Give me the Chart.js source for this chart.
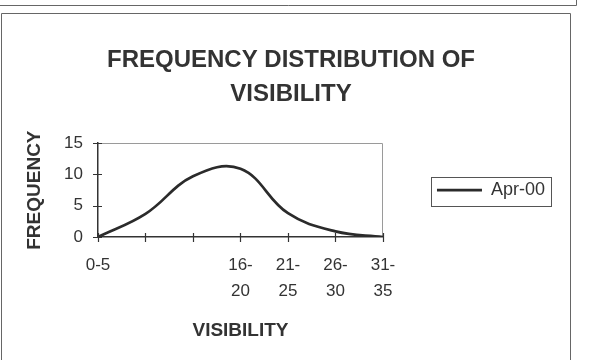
<!DOCTYPE html>
<html>
<head>
<meta charset="utf-8">
<script src="https://cdn.jsdelivr.net/npm/chart.js@4/dist/chart.umd.min.js"></script>
<style>
  html, body { margin: 0; padding: 0; background: #fff; }
  #wrap { width: 591px; height: 360px; position: relative; }
</style>
</head>
<body>
<div id="wrap"><canvas id="chart"></canvas></div>
<script>
// Visibility classes (km) and the number of observations in each
const categories = ['0-5', '6-10', '11-15', '16-20', '21-25', '26-30', '31-35'];
const xTickLabels = [['0-5'], [''], [''], ['16-', '20'], ['21-', '25'], ['26-', '30'], ['31-', '35']];
const seriesLabel = 'Apr-00';
const frequency = [0, 3.7, 9.7, 10.9, 3.8, 0.9, 0];
const yTicks = [0, 5, 10, 15];
const titleLines = ['FREQUENCY DISTRIBUTION OF', 'VISIBILITY'];
const xTitle = 'VISIBILITY';
const yTitle = 'FREQUENCY';

const FONT = "'Liberation Sans', Arial, Helvetica, sans-serif";
const INK = '#333';

// Page frames, plot outline, cross tick marks and the legend box
const framePlugin = {
  id: 'frames',
  beforeDraw(chart) {
    const { ctx, chartArea: a } = chart;
    ctx.save();
    ctx.fillStyle = '#fff';
    ctx.fillRect(0, 0, chart.width, chart.height);
    ctx.strokeStyle = '#666';
    ctx.lineWidth = 1;
    ctx.beginPath();
    ctx.moveTo(0, 5.5); ctx.lineTo(576.5, 5.5); ctx.lineTo(576.5, 0);
    ctx.moveTo(1.5, 362); ctx.lineTo(1.5, 13.5); ctx.lineTo(570.5, 13.5); ctx.lineTo(570.5, 362);
    ctx.stroke();
    ctx.strokeStyle = '#9a9a9a';
    ctx.beginPath();
    ctx.moveTo(a.left, Math.round(a.top) + 0.5);
    ctx.lineTo(Math.round(a.right) - 0.5, Math.round(a.top) + 0.5);
    ctx.lineTo(Math.round(a.right) - 0.5, a.bottom);
    ctx.stroke();
    ctx.restore();
  },
  afterDraw(chart) {
    const { ctx } = chart;
    const xs = chart.scales.x, ys = chart.scales.y;
    ctx.save();
    ctx.strokeStyle = INK;
    ctx.lineWidth = 1.2;
    ctx.beginPath();
    xs.ticks.forEach((t, i) => {
      const px = Math.round(xs.getPixelForTick(i)) + 0.5;
      ctx.moveTo(px, ys.bottom - 4); ctx.lineTo(px, ys.bottom + 5);
    });
    ys.ticks.forEach((t, i) => {
      const py = Math.round(ys.getPixelForTick(i)) + 0.5;
      ctx.moveTo(xs.left - 5, py); ctx.lineTo(xs.left + 4, py);
    });
    ctx.stroke();
    const lg = chart.legend;
    if (lg && lg.legendHitBoxes && lg.legendHitBoxes.length) {
      const h = lg.legendHitBoxes[0];
      ctx.strokeStyle = '#555';
      ctx.lineWidth = 1;
      ctx.strokeRect(Math.round(h.left - 6) + 0.5, Math.round(h.top - 4) + 0.5,
                     Math.round(h.width + 12), Math.round(h.height + 11));
    }
    ctx.restore();
  }
};

new Chart(document.getElementById('chart'), {
  type: 'line',
  data: {
    labels: categories,
    datasets: [{
      label: seriesLabel,
      data: frequency,
      borderColor: '#2b2b2b',
      backgroundColor: '#2b2b2b',
      borderWidth: 2.7,
      tension: 0.4,
      pointRadius: 0,
      pointStyle: 'line',
      fill: false
    }]
  },
  options: {
    responsive: true,
    maintainAspectRatio: false,
    animation: false,
    devicePixelRatio: 1,
    layout: { padding: { left: 27, right: 36, top: 0, bottom: 17.6 } },
    plugins: {
      title: {
        display: true,
        text: titleLines,
        color: INK,
        font: { family: FONT, size: 24, weight: 'bold', lineHeight: 1.4 },
        padding: { top: 44, bottom: 32 }
      },
      legend: {
        display: true,
        position: 'right',
        maxWidth: 220,
        // empty title used only as a spacer to lower the entry
        title: {
          display: true,
          text: '',
          font: { family: FONT, size: 12, lineHeight: 1.2 },
          padding: { top: 23.6, bottom: 0 }
        },
        labels: {
          usePointStyle: true,
          pointStyle: 'line',
          pointStyleWidth: 45,
          padding: 54,
          color: INK,
          font: { family: FONT, size: 18 }
        }
      },
      tooltip: { enabled: false }
    },
    scales: {
      x: {
        type: 'category',
        offset: false,
        grid: { display: false, drawTicks: false },
        border: { display: true, color: INK, width: 1.5 },
        ticks: {
          autoSkip: false,
          maxRotation: 0,
          padding: 15,
          color: INK,
          font: { family: FONT, size: 17, lineHeight: 1.53 },
          callback: (v, i) => xTickLabels[i]
        },
        title: {
          display: true,
          text: xTitle,
          color: INK,
          font: { family: FONT, size: 19, weight: 'bold', lineHeight: 1.2 },
          padding: { top: 15.6, bottom: 0 }
        },
        afterFit: s => { s.height = 105.4; }
      },
      y: {
        min: 0,
        max: 15,
        grid: { display: false, drawTicks: false },
        border: { display: true, color: INK, width: 1.5 },
        afterBuildTicks: s => { s.ticks = yTicks.map(v => ({ value: v })); },
        ticks: {
          padding: 15,
          color: INK,
          font: { family: FONT, size: 17 }
        },
        title: {
          display: true,
          text: yTitle,
          color: INK,
          font: { family: FONT, size: 19, weight: 'bold', lineHeight: 1 },
          padding: { top: -2, bottom: 0 }
        },
        afterFit: s => { s.width = 71; }
      }
    }
  },
  plugins: [framePlugin]
});
</script>
</body>
</html>
